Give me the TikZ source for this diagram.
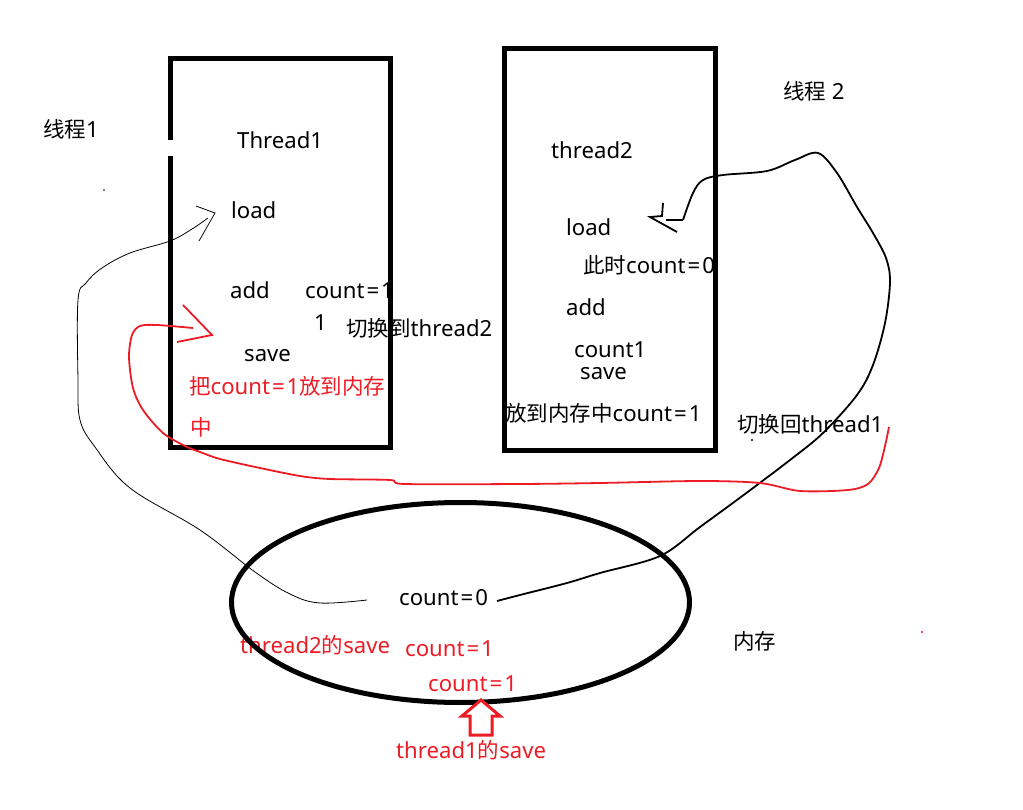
\documentclass[tikz,border=0pt]{standalone}
\usepackage{fontspec}
\setmainfont[Scale=1.03]{Noto Sans}
\newfontfamily\cjkfont{Noto Sans CJK SC}
\newcommand\zhtxt[1]{{\cjkfont #1}}
\newcommand\eqk{\kern2pt=\kern2pt}
\definecolor{paintred}{RGB}{237,28,36}
\begin{document}
\begin{tikzpicture}[x=1pt,y=-1pt,
  lbl/.style={anchor=base west,inner sep=0pt,font=\fontsize{21.5pt}{26pt}\selectfont},
  redlbl/.style={lbl,text=paintred},
  boxstyle/.style={draw=black,line width=5pt,inner sep=0pt},
  thinline/.style={draw=black,line width=0.8pt},
  blkline/.style={draw=black,line width=1.8pt},
  redline/.style={draw=paintred,line width=1.8pt}]
\useasboundingbox (0,0) rectangle (1023,810);
% texts
\node[lbl] (l1) at (43,138) {\zhtxt{线程}1};
\node[lbl] (t1) at (237,149) {Thread1};
\node[lbl] (t1load) at (231,219) {load};
\node[lbl] (t1add) at (230,299) {add};
\node[lbl] (t1cnt) at (305,299) {count\eqk1};
\node[lbl] (t1one) at (314,331) {1};
\node[lbl] (sw2) at (346,337) {\zhtxt{切换到}thread2};
\node[lbl] (t1save) at (244,362) {save};
\node[redlbl] (t1put) at (189,395) {\zhtxt{把}count\eqk1\zhtxt{放到内存}};
\node[redlbl] (t1put2) at (190,435) {\zhtxt{中}};
\node[lbl] (t2) at (551,159) {thread2};
\node[lbl] (l2) at (783,100) {\zhtxt{线程} 2};
\node[lbl] (t2load) at (566,236) {load};
\node[lbl] (t2now) at (583,274) {\zhtxt{此时}count\eqk0};
\node[lbl] (t2add) at (566,316) {add};
\node[lbl] (t2cnt) at (574,357) {count1};
\node[lbl] (t2save) at (580,380) {save};
\node[lbl] (t2put) at (505,421) {\zhtxt{放到内存中}count\eqk1};
\node[lbl] (sw1) at (737,432) {\zhtxt{切换回}thread1};
\node[lbl] (cnt0) at (399,605) {count\eqk0};
\node[redlbl] (s2) at (240,653) {thread2\zhtxt{的}save};
\node[redlbl] (c1a) at (405,656) {count\eqk1};
\node[redlbl] (c1b) at (428,691) {count\eqk1};
\node[redlbl] (s1) at (396,758) {thread1\zhtxt{的}save};
\node[lbl] (memlbl) at (733,649) {\zhtxt{内存}};
% boxes
\node[boxstyle,minimum width=220pt,minimum height=388.5pt] (box1) at (280.5,252.75) {};
\fill[white] (165,140) rectangle (176,156);
\node[boxstyle,minimum width=211pt,minimum height=401pt] (box2) at (609.5,249.5) {};
% memory ellipse
\draw[line width=5pt] (460.5,602.5) ellipse [x radius=229pt, y radius=100pt];
\coordinate (mem) at (460.5,602.5);
% thin black curve from memory to Thread1 load
\coordinate (a1) at (367,600);
\coordinate (a1tip) at (215,213);
\draw[thinline] plot[smooth,tension=0.6] coordinates {(a1) (320,603) (290,594) (255,572) (200,530) (130,488) (95,447) (80,420) (78,380) (78,300) (86,283) (102,268) (130,253) (170,241) (192,229) (208,218)};
\draw[thinline] (196,206) -- (a1tip) -- (199,241);
% thick black curve from memory to thread2 load
\coordinate (b1) at (497,601);
\coordinate (b1tip) at (650,217);
\draw[blkline] plot[smooth,tension=0.55] coordinates {(b1) (520,595) (567,583) (600,573) (660,556) (700,527) (745,494) (790,460) (823,433) (857,395) (873,365) (885,323) (890,282) (886,258) (873,233) (857,207) (837,173) (818,153) (795,160) (767,171) (723,175) (703,180) (693,193) (683,220)};
\draw[blkline] (683,220) -- (666,220);
\draw[blkline] (663,203) -- (662,216) -- (b1tip) -- (677,232);
% red curve back to Thread1 save
\coordinate (r1) at (889,427);
\coordinate (r1tip) at (212,335);
\draw[redline] plot[smooth,tension=0.5] coordinates {(r1) (885,446) (879,468) (868,484) (848,490) (800,491) (760,483) (700,481) (600,483) (520,484) (405,484) (390,480) (330,479) (300,476) (260,468) (220,459) (200,452) (185,446) (163,433) (143,410) (133,388) (129,357) (132,335) (140,326) (157,325) (193,328)};
\draw[redline] (183,305) -- (r1tip) -- (177,342);
% hollow red up arrow
\draw[draw=paintred,line width=3pt,fill=white,line join=miter] (481,700) -- (500,716) -- (492,716) -- (492,735) -- (470,735) -- (470,716) -- (462,716) -- cycle;
% small dots
\fill[black] (104,190) circle (0.9pt);
\fill[black] (752,440) circle (1.1pt);
\fill[paintred] (922,632) circle (1.2pt);
\end{tikzpicture}
\end{document}
